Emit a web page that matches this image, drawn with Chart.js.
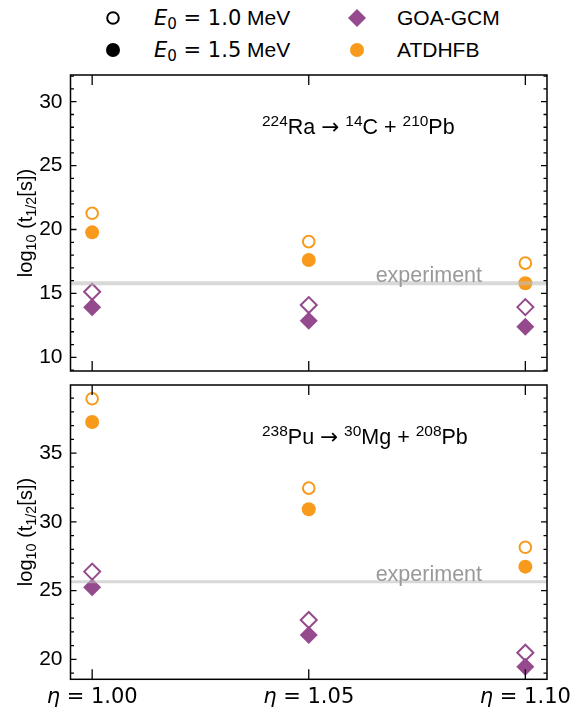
<!DOCTYPE html>
<html>
<head>
<meta charset="utf-8">
<script src="https://cdn.jsdelivr.net/npm/chart.js@4"></script>
<style>
  body { margin: 0; background: #fff; width: 579px; height: 707px; position: relative; overflow: hidden;
         font-family: "Liberation Sans", Arial, sans-serif; color: #000; }
  canvas { position: absolute; left: 0; }
  #c1 { top: 0; }
  #c2 { top: 355px; }
  .t { position: absolute; white-space: nowrap; line-height: 1; }
  .m { font-family: "DejaVu Sans", sans-serif; }
  .sp { position: relative; font-size: 0.72em; top: -0.5em; }
  .sb { position: relative; font-size: 0.72em; top: 0.25em; }
  svg.mk { position: absolute; overflow: visible; }
  .ylab { position: absolute; white-space: nowrap; font-size: 20px; line-height: 1;
          transform: translate(-50%, -50%) rotate(-90deg); }
</style>
</head>
<body>
<!-- legend -->
<svg class="mk" width="1" height="1" style="left:113px;top:18px"><circle r="5.8" fill="#fff" stroke="#000" stroke-width="2"/></svg>
<svg class="mk" width="1" height="1" style="left:113px;top:50px"><circle r="7" fill="#000"/></svg>
<svg class="mk" width="1" height="1" style="left:357px;top:18px"><polygon points="-9,0 0,-9 9,0 0,9" fill="#944a8c"/></svg>
<svg class="mk" width="1" height="1" style="left:357px;top:50px"><circle r="7" fill="#f89a1c"/></svg>
<div class="t" style="left:154px;top:7px;font-size:21px"><span class="m"><i>E</i><span class="sb">0</span> = 1.0</span> MeV</div>
<div class="t" style="left:154px;top:39px;font-size:21px"><span class="m"><i>E</i><span class="sb">0</span> = 1.5</span> MeV</div>
<div class="t" style="left:397px;top:7px;font-size:21px">GOA-GCM</div>
<div class="t" style="left:397px;top:39px;font-size:21px">ATDHFB</div>

<canvas id="c1" width="579" height="400"></canvas>
<canvas id="c2" width="579" height="352"></canvas>

<!-- panel annotations -->
<div class="t" style="left:262px;top:116px;font-size:21.5px"><span class="sp">224</span>Ra <span class="m">→</span> <span class="sp">14</span>C + <span class="sp">210</span>Pb</div>
<div class="t" style="left:262px;top:426px;font-size:21.5px"><span class="sp">238</span>Pu <span class="m">→</span> <span class="sp">30</span>Mg + <span class="sp">208</span>Pb</div>
<div class="ylab" style="left:25px;top:223px">log<span class="sb">10</span> (t<span class="sb">1/2</span>[s])</div>
<div class="ylab" style="left:25px;top:532px">log<span class="sb">10</span> (t<span class="sb">1/2</span>[s])</div>

<script>
const ETA = [1.00, 1.05, 1.10];
const X_MIN = 0.995, X_MAX = 1.105;

// 224Ra -> 14C + 210Pb
const RA_GOA_E10 = [15.13, 14.09, 13.93];
const RA_GOA_E15 = [13.91, 12.86, 12.40];
const RA_ATD_E10 = [21.27, 19.05, 17.37];
const RA_ATD_E15 = [19.78, 17.61, 15.80];
const RA_EXP = 15.8;
const RA_YTICKS = [10, 15, 20, 25, 30];

// 238Pu -> 30Mg + 208Pb
const PU_GOA_E10 = [26.38, 22.86, 20.48];
const PU_GOA_E15 = [25.24, 21.77, 19.46];
const PU_ATD_E10 = [38.95, 32.45, 28.15];
const PU_ATD_E15 = [37.26, 30.92, 26.74];
const PU_EXP = 25.65;
const PU_YTICKS = [20, 25, 30, 35];

const ORANGE = "#f89a1c";
const PURPLE = "#944a8c";

const pts = (ys) => ETA.map((x, i) => ({ x, y: ys[i] }));

// frame, inward ticks, x labels and the "experiment" label
const framePlugin = {
  id: "frame",
  afterDatasetsDraw(chart, args, opts) {
    const { ctx, chartArea: a } = chart;
    const xs = chart.scales.x, ys = chart.scales.y;
    ctx.save();
    ctx.strokeStyle = "#000";
    ctx.lineWidth = 1.3;

    // y ticks (major + minor every 1) on left and right
    ctx.beginPath();
    for (let v = Math.ceil(ys.min); v <= ys.max; v++) {
      const len = opts.yTicks.includes(v) ? 6 : 3.5;
      const py = ys.getPixelForValue(v);
      ctx.moveTo(a.left, py); ctx.lineTo(a.left + len, py);
      ctx.moveTo(a.right, py); ctx.lineTo(a.right - len, py);
    }
    // x ticks on top and bottom
    for (const v of ETA) {
      const px = xs.getPixelForValue(v);
      ctx.moveTo(px, a.top); ctx.lineTo(px, a.top + 10);
      ctx.moveTo(px, a.bottom); ctx.lineTo(px, a.bottom - 10);
    }
    ctx.stroke();
    ctx.lineWidth = 1.5;
    ctx.strokeRect(a.left, a.top, a.right - a.left, a.bottom - a.top);

    // experiment label
    ctx.fillStyle = "#999";
    ctx.font = '21.5px "Liberation Sans", Arial, sans-serif';
    ctx.textAlign = "right";
    ctx.textBaseline = "alphabetic";
    ctx.fillText("experiment", xs.getPixelForValue(1.09), ys.getPixelForValue(opts.exp) - 1);

    // x tick labels
    if (opts.xLabels) {
      ctx.fillStyle = "#000";
      ctx.textAlign = "left";
      const f1 = 'italic 21px "DejaVu Sans", sans-serif';
      const f2 = '21px "DejaVu Sans", sans-serif';
      for (const v of ETA) {
        const rest = " = " + v.toFixed(2);
        ctx.font = f1; const w1 = ctx.measureText("η").width;
        ctx.font = f2; const w2 = ctx.measureText(rest).width;
        const x0 = xs.getPixelForValue(v) - (w1 + w2) / 2;
        const by = a.bottom + 24;
        ctx.font = f1; ctx.fillText("η", x0, by);
        ctx.font = f2; ctx.fillText(rest, x0 + w1, by);
      }
    }
    ctx.restore();
  },
};

function makeChart(id, d) {
  return new Chart(document.getElementById(id), {
    type: "scatter",
    data: {
      datasets: [
        { data: [{ x: X_MIN, y: d.exp }, { x: X_MAX, y: d.exp }], showLine: true,
          borderColor: "rgba(190,190,190,0.6)", borderWidth: d.expWidth, pointRadius: 0, order: 0 },
        { data: pts(d.goa10), pointStyle: "rectRot", pointRadius: 8, borderWidth: 2,
          borderColor: PURPLE, backgroundColor: "#fff", order: 4 },
        { data: pts(d.goa15), pointStyle: "rectRot", pointRadius: 9, borderWidth: 0,
          backgroundColor: PURPLE, borderColor: PURPLE, order: 3 },
        { data: pts(d.atd10), pointStyle: "circle", pointRadius: 5.8, borderWidth: 2,
          borderColor: ORANGE, backgroundColor: "#fff", order: 2 },
        { data: pts(d.atd15), pointStyle: "circle", pointRadius: 7, borderWidth: 0,
          backgroundColor: ORANGE, borderColor: ORANGE, order: 1 },
      ],
    },
    options: {
      responsive: false,
      animation: false,
      devicePixelRatio: 1,
      events: [],
      layout: { padding: { top: d.padTop, right: 32, bottom: d.padBottom, left: 0 } },
      plugins: {
        legend: { display: false },
        tooltip: { enabled: false },
        frame: { yTicks: d.yTicks, exp: d.exp, xLabels: d.xLabels },
      },
      scales: {
        x: { type: "linear", display: false, min: X_MIN, max: X_MAX },
        y: {
          min: d.yMin, max: d.yMax,
          grid: { display: false, drawTicks: false },
          border: { display: false },
          afterBuildTicks: (s) => { s.ticks = d.yTicks.map((v) => ({ value: v })); },
          afterFit: (s) => { s.width = 70.5; },
          ticks: { padding: 8, color: "#000", font: { family: '"Liberation Sans", Arial, sans-serif', size: 21 } },
        },
      },
    },
    plugins: [framePlugin],
  });
}

makeChart("c1", {
  goa10: RA_GOA_E10, goa15: RA_GOA_E15, atd10: RA_ATD_E10, atd15: RA_ATD_E15,
  exp: RA_EXP, expWidth: 4, yTicks: RA_YTICKS, yMin: 8.93, yMax: 32.09,
  padTop: 75, padBottom: 29, xLabels: false,
});
makeChart("c2", {
  goa10: PU_GOA_E10, goa15: PU_GOA_E15, atd10: PU_ATD_E10, atd15: PU_ATD_E15,
  exp: PU_EXP, expWidth: 3, yTicks: PU_YTICKS, yMin: 18.55, yMax: 39.95,
  padTop: 30, padBottom: 27.7, xLabels: true,
});
</script>
</body>
</html>
